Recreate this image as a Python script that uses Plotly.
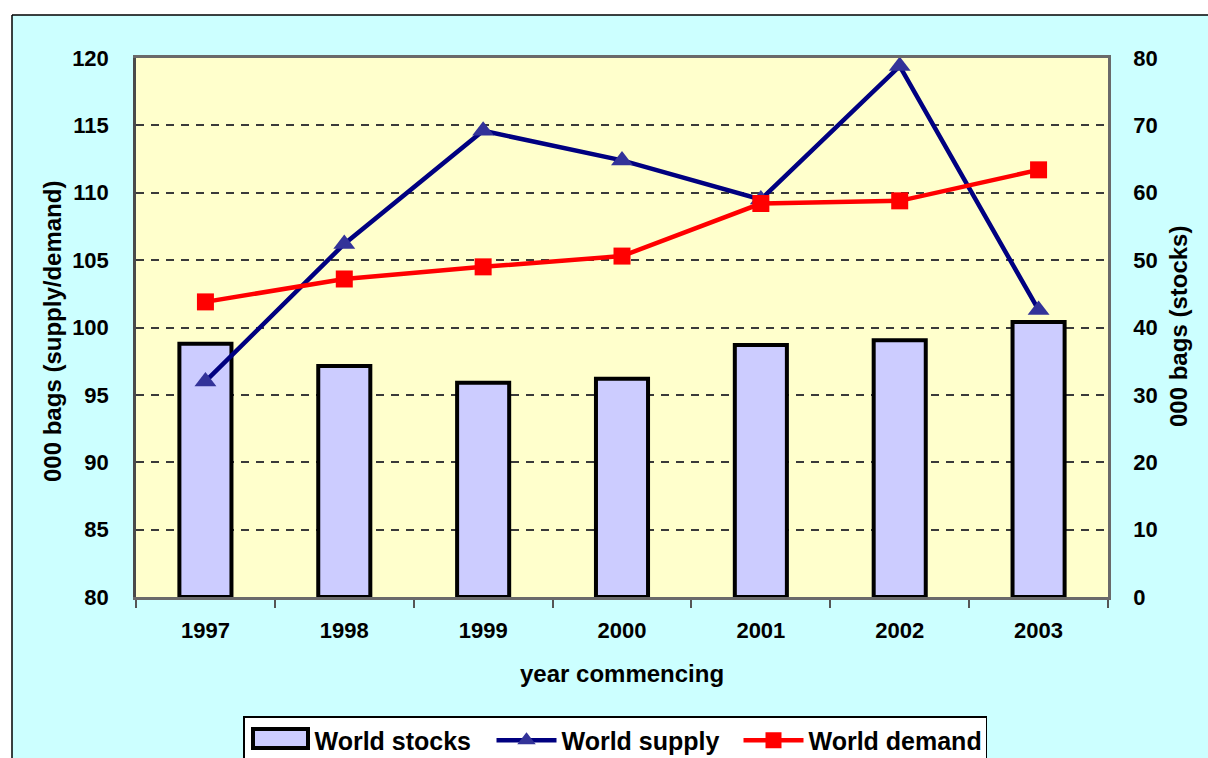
import plotly.graph_objects as go

# ---- data ----
years = ["1997", "1998", "1999", "2000", "2001", "2002", "2003"]
world_stocks = [37.6, 34.3, 31.8, 32.4, 37.4, 38.1, 40.8]          # right axis
world_supply = [96.0, 106.2, 114.6, 112.4, 109.5, 119.4, 101.3]    # left axis
world_demand = [101.9, 103.6, 104.5, 105.3, 109.2, 109.4, 111.7]   # left axis
left_ticks = [80, 85, 90, 95, 100, 105, 110, 115, 120]
right_ticks = [0, 10, 20, 30, 40, 50, 60, 70, 80]

W, H = 1208, 758
L, R, T, B = 136, 100, 58, 161
PW, PH = W - L - R, H - T - B

def px(x):
    return (x - L) / PW

def py(y):
    return (H - B - y) / PH

FONT = "Arial, 'Liberation Sans', sans-serif"
tickfont = dict(family=FONT, size=22, color="black", weight="bold")
titlefont = dict(family=FONT, size=24, color="black", weight="bold")

fig = go.Figure()
fig.add_trace(go.Bar(
    x=years, y=world_stocks, name="World stocks", yaxis="y", width=0.375,
    marker=dict(color="#CCCCFF", line=dict(color="black", width=4)),
    showlegend=False,
))
# legend entry for the stocks bars (its wide swatch is drawn as a shape)
fig.add_trace(go.Scatter(
    x=[None], y=[None], name="World stocks", yaxis="y2", mode="markers",
    marker=dict(color="rgba(0,0,0,0)", size=1),
))
fig.add_trace(go.Scatter(
    x=years, y=world_supply, name="World supply", yaxis="y2", mode="lines+markers",
    line=dict(color="#000080", width=4.5),
    marker=dict(symbol="triangle-up", size=19, color="#333399"),
    cliponaxis=False,
))
fig.add_trace(go.Scatter(
    x=years, y=world_demand, name="World demand", yaxis="y2", mode="lines+markers",
    line=dict(color="#FF0000", width=4.5),
    marker=dict(symbol="square", size=17, color="#FF0000"),
    cliponaxis=False,
))

shapes = [
    # white strips outside the cyan frame
    dict(type="rect", xref="paper", yref="paper", x0=px(0), x1=px(W), y0=py(15), y1=py(0),
         fillcolor="white", line=dict(width=0), layer="above"),
    dict(type="rect", xref="paper", yref="paper", x0=px(0), x1=px(12), y0=py(H), y1=py(0),
         fillcolor="white", line=dict(width=0), layer="above"),
    # frame lines
    dict(type="line", xref="paper", yref="paper", x0=px(12), x1=px(W), y0=py(15), y1=py(15),
         line=dict(color="black", width=1.5), layer="above"),
    dict(type="line", xref="paper", yref="paper", x0=px(12), x1=px(12), y0=py(15), y1=py(H),
         line=dict(color="black", width=1.5), layer="above"),
    # legend background and stocks swatch
    dict(type="rect", xref="paper", yref="paper", x0=px(243), x1=px(986), y0=py(H + 5), y1=py(716),
         fillcolor="white", line=dict(width=0), layer="above"),
    dict(type="rect", xref="paper", yref="paper", x0=px(253), x1=px(308), y0=py(748), y1=py(729),
         fillcolor="#CCCCFF", line=dict(color="black", width=4), layer="above"),
]

annotations = [
    dict(text="000 bags (supply/demand)", xref="paper", yref="paper", x=px(52), y=py(332),
         xanchor="center", yanchor="middle",
         textangle=-90, showarrow=False, font=titlefont),
    dict(text="000 bags (stocks)", xref="paper", yref="paper", x=px(1178), y=py(327),
         xanchor="center", yanchor="middle",
         textangle=-90, showarrow=False, font=titlefont),
    dict(text="year commencing", xref="paper", yref="paper", x=px(622), y=py(673),
         xanchor="center", yanchor="middle",
         showarrow=False, font=titlefont),
]

fig.update_layout(
    width=W, height=H,
    margin=dict(l=L, r=R, t=T, b=B, autoexpand=False),
    paper_bgcolor="#CCFFFF", plot_bgcolor="#FFFFCC",
    showlegend=True,
    xaxis=dict(
        type="category", tickson="boundaries", ticks="outside", ticklen=8, tickwidth=1.5,
        tickcolor="#555555", showline=True, linecolor="#6a6a6a", linewidth=2.5, mirror=True,
        showgrid=False, tickfont=tickfont, ticklabelstandoff=12,
    ),
    yaxis=dict(
        side="right", range=[0, 80], tickvals=right_ticks, ticks="", showline=True,
        linecolor="#6a6a6a", linewidth=2.5, showgrid=True, gridcolor="#3a3a3a", gridwidth=1.5,
        griddash="8px,7px", zeroline=False, tickfont=tickfont, ticklabelstandoff=18,
    ),
    yaxis2=dict(
        overlaying="y", side="left", range=[80, 120], tickvals=left_ticks, ticks="",
        showline=True, linecolor="#4a4a4a", linewidth=2.5, showgrid=False, zeroline=False,
        tickfont=tickfont, ticklabelstandoff=20,
    ),
    legend=dict(
        orientation="h", x=px(243), xanchor="left", y=py(716), yanchor="top",
        bgcolor="rgba(0,0,0,0)", bordercolor="black", borderwidth=1.5,
        font=dict(family=FONT, size=25, color="black", weight="bold"),
        entrywidth=172, itemwidth=60, traceorder="normal",
    ),
    shapes=shapes, annotations=annotations,
)

fig.write_html("out.html")
